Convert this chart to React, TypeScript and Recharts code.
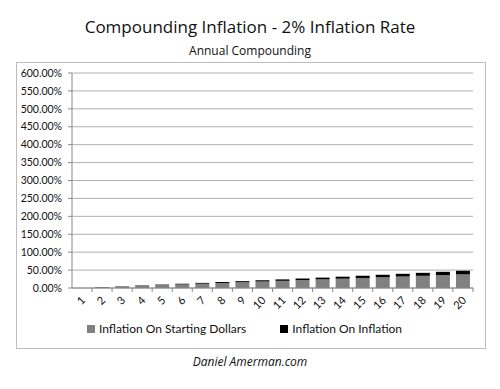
import React from "react";
import { BarChart, Bar, XAxis, YAxis, CartesianGrid, Legend } from "recharts";

// Years 1..20
const years = ["1", "2", "3", "4", "5", "6", "7", "8", "9", "10", "11", "12", "13", "14", "15", "16", "17", "18", "19", "20"];
// (percent)
const startingDollars = [0, 2, 4, 6, 8, 10, 12, 14, 16, 18, 20, 22, 24, 26, 28, 30, 32, 34, 36, 38];
const onInflation = [0, 0.6, 0.9, 1.2, 1.5, 1.9, 2.3, 2.7, 3.1, 3.5, 4.0, 4.5, 5.0, 5.6, 6.2, 6.9, 7.6, 8.3, 9.2, 10.1];
const yTicks = [0, 50, 100, 150, 200, 250, 300, 350, 400, 450, 500, 550, 600];

const data = years.map((y, i) => ({
  year: y,
  starting: startingDollars[i],
  inflation: onInflation[i],
}));

const FONT = "Lato, 'Open Sans', sans-serif";

const legendItems = [
  { label: "Inflation On Starting Dollars", color: "#808080" },
  { label: "Inflation On Inflation", color: "#000000" },
];

function YearTick(props: any) {
  const { x, y, payload } = props;
  const tx = x + 4;
  const ty = y + 13;
  return (
    <g>
      <line x1={x + 10} y1={y} x2={x + 10} y2={y + 4} stroke="#888" strokeWidth={1} />
      <text
        x={tx}
        y={ty}
        transform={`rotate(-45 ${tx} ${ty})`}
        textAnchor="end"
        fontSize={11}
        fontFamily={FONT}
        fill="#111"
      >
        {payload.value}
      </text>
    </g>
  );
}

function LegendBox() {
  return (
    <div style={{ display: "flex", justifyContent: "center", gap: 34, fontSize: 12, fontFamily: FONT, color: "#111" }}>
      {legendItems.map((it) => (
        <span key={it.label} style={{ display: "flex", alignItems: "center" }}>
          <span style={{ display: "inline-block", width: 8, height: 8, background: it.color, marginRight: 4 }} />
          {it.label}
        </span>
      ))}
    </div>
  );
}

export default function App() {
  return (
    <div style={{ position: "absolute", left: 0, top: 0, width: 500, height: 389, background: "#fff", fontFamily: FONT }}>
      <div style={{ position: "absolute", left: 0, top: 15, width: 500, textAlign: "center", fontFamily: "'Open Sans', sans-serif", fontSize: 17, color: "#111" }}>
        Compounding Inflation - 2% Inflation Rate
      </div>
      <div style={{ position: "absolute", left: 0, top: 42, width: 500, textAlign: "center", fontFamily: "'Open Sans', sans-serif", fontSize: 12, color: "#111" }}>
        Annual Compounding
      </div>
      <div style={{ position: "absolute", left: 16, top: 62, width: 468, height: 285, border: "1px solid #bdbdbd" }} />
      <div style={{ position: "absolute", left: 0, top: 353, width: 500, textAlign: "center", fontFamily: "'Open Sans', sans-serif", fontStyle: "italic", fontSize: 12, color: "#111" }}>
        Daniel Amerman.com
      </div>
      <div style={{ position: "absolute", left: 0, top: 0 }}>
        <BarChart
          width={500}
          height={389}
          data={data}
          margin={{ top: 73, right: 27, bottom: 51, left: 16 }}
          barSize={14}
        >
          <CartesianGrid vertical={false} stroke="#b0b0b0" />
          <XAxis
            dataKey="year"
            tick={YearTick}
            tickLine={false}
            tickSize={0}
            tickMargin={0}
            height={30}
            stroke="#888"
            interval={0}
          />
          <YAxis
            domain={[0, 600]}
            ticks={yTicks}
            tickFormatter={(v: number) => v.toFixed(2) + "%"}
            width={56}
            tick={{ fontSize: 10.5, fill: "#111", fontFamily: FONT }}
            tickSize={4}
            tickMargin={6}
            stroke="#888"
            interval={0}
          />
          <Legend verticalAlign="bottom" height={20} content={() => <LegendBox />} wrapperStyle={{ bottom: 48 }} />
          <Bar dataKey="starting" stackId="a" fill="#808080" name="Inflation On Starting Dollars" isAnimationActive={false} />
          <Bar dataKey="inflation" stackId="a" fill="#000000" name="Inflation On Inflation" isAnimationActive={false} />
        </BarChart>
      </div>
    </div>
  );
}
